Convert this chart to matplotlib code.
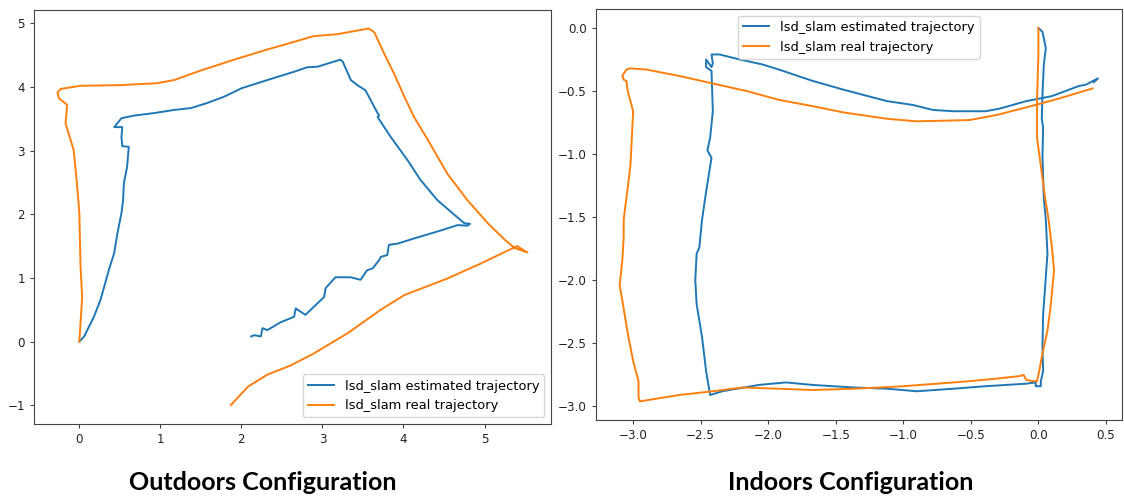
import matplotlib
matplotlib.use('Agg')
import matplotlib.pyplot as plt

# outdoors run (left panel)
out_est_x = [0, 0.06, 0.18, 0.26, 0.37, 0.43, 0.47, 0.52, 0.54, 0.55,
             0.59, 0.61, 0.53, 0.52, 0.53, 0.43, 0.45, 0.52, 0.67, 0.92,
             1.17, 1.38, 1.58, 1.79, 2.00, 2.32, 2.65, 2.81, 2.94, 3.22,
             3.25, 3.35, 3.43, 3.53, 3.68, 3.70, 3.68, 3.84, 4.05, 4.21,
             4.42, 4.63, 4.75, 4.82, 4.79, 4.67, 4.42, 4.13, 3.93, 3.82,
             3.80, 3.72, 3.70, 3.62, 3.55, 3.47, 3.35, 3.16, 3.04, 3.02,
             2.79, 2.67, 2.65, 2.48, 2.32, 2.26, 2.24, 2.16, 2.12]
out_est_y = [0, 0.08, 0.39, 0.65, 1.15, 1.39, 1.70, 2.02, 2.22, 2.49,
             2.75, 3.06, 3.07, 3.22, 3.37, 3.37, 3.40, 3.51, 3.55, 3.59,
             3.64, 3.67, 3.75, 3.85, 3.98, 4.11, 4.24, 4.31, 4.32, 4.43,
             4.40, 4.11, 4.03, 3.95, 3.59, 3.55, 3.53, 3.22, 2.85, 2.54,
             2.22, 1.99, 1.86, 1.85, 1.82, 1.83, 1.73, 1.62, 1.54, 1.52,
             1.36, 1.33, 1.28, 1.15, 1.12, 0.97, 1.01, 1.01, 0.84, 0.70,
             0.42, 0.52, 0.39, 0.30, 0.18, 0.21, 0.08, 0.10, 0.08]
out_real_x = [0, 0.035, 0.015, 0.0, -0.03, -0.07, -0.17, -0.15, -0.25, -0.27,
              -0.23, 0.015, 0.51, 0.96, 1.17, 1.50, 1.91, 2.32, 2.65, 2.89,
              3.18, 3.57, 3.64, 3.76, 3.88, 4.01, 4.13, 4.30, 4.54, 4.79,
              5.04, 5.25, 5.37, 5.53, 5.40, 4.96, 4.54, 4.01, 3.72, 3.31,
              2.89, 2.60, 2.32, 2.08, 1.87]
out_real_y = [0, 0.70, 1.18, 2.02, 2.49, 3.01, 3.43, 3.72, 3.82, 3.91,
              3.97, 4.02, 4.03, 4.06, 4.11, 4.26, 4.43, 4.59, 4.71, 4.80,
              4.83, 4.92, 4.86, 4.53, 4.22, 3.85, 3.53, 3.17, 2.64, 2.22,
              1.86, 1.60, 1.47, 1.40, 1.50, 1.23, 0.99, 0.73, 0.50, 0.13,
              -0.19, -0.38, -0.52, -0.71, -1.0]

# indoors run (right panel)
in_est_x = [0.0, 0.03, 0.055, 0.04, 0.03, 0.025, 0.035, 0.03, 0.04, 0.055,
            0.067, 0.05, 0.035, 0.03, 0.035, 0.018, 0.018, -0.02, -0.02, -0.09,
            -0.39, -0.63, -0.90, -1.12, -1.37, -1.67, -1.87, -2.07, -2.34, -2.43,
            -2.46, -2.49, -2.53, -2.54, -2.53, -2.51, -2.49, -2.46, -2.42, -2.45,
            -2.43, -2.41, -2.42, -2.46, -2.46, -2.42, -2.41, -2.42, -2.36, -2.21,
            -2.04, -1.92, -1.67, -1.44, -1.12, -0.93, -0.78, -0.63, -0.39, -0.29,
            -0.09, 0.10, 0.30, 0.35, 0.44, 0.41]
in_est_y = [0.0, -0.03, -0.16, -0.29, -0.53, -0.72, -0.79, -1.01, -1.35, -1.52,
            -1.79, -2.05, -2.27, -2.53, -2.72, -2.80, -2.84, -2.84, -2.81, -2.82,
            -2.84, -2.86, -2.88, -2.86, -2.85, -2.83, -2.81, -2.83, -2.88, -2.91,
            -2.72, -2.45, -2.19, -2.0, -1.79, -1.74, -1.52, -1.30, -1.03, -0.97,
            -0.87, -0.66, -0.34, -0.31, -0.25, -0.31, -0.28, -0.21, -0.21, -0.25,
            -0.29, -0.33, -0.42, -0.49, -0.58, -0.61, -0.65, -0.66, -0.66, -0.64,
            -0.58, -0.54, -0.46, -0.45, -0.40, -0.43]
in_real_x = [0.0, 0.0, -0.01, -0.01, 0.03, 0.05, 0.074, 0.10, 0.116, 0.09,
             0.067, 0.03, 0.006, -0.01, -0.04, -0.09, -0.11, -0.14, -0.31, -0.51,
             -0.75, -1.0, -1.17, -1.37, -1.67, -1.92, -2.19, -2.41, -2.66, -2.95,
             -2.96, -2.96, -3.0, -3.04, -3.08, -3.10, -3.08, -3.07, -3.07, -3.02,
             -3.0, -3.04, -3.05, -3.07, -3.08, -3.05, -3.02, -2.90, -2.66, -2.41,
             -2.16, -1.92, -1.67, -1.44, -1.12, -0.90, -0.51, -0.31, -0.02, 0.15,
             0.40]
in_real_y = [0.0, -0.21, -0.56, -0.87, -1.19, -1.35, -1.51, -1.74, -1.92, -2.21,
             -2.40, -2.58, -2.72, -2.80, -2.80, -2.79, -2.75, -2.76, -2.78, -2.80,
             -2.82, -2.84, -2.85, -2.86, -2.87, -2.86, -2.85, -2.88, -2.91, -2.96,
             -2.93, -2.80, -2.64, -2.42, -2.16, -2.04, -1.84, -1.66, -1.52, -1.09,
             -0.66, -0.50, -0.42, -0.41, -0.38, -0.33, -0.32, -0.33, -0.38, -0.44,
             -0.50, -0.57, -0.62, -0.67, -0.72, -0.74, -0.73, -0.69, -0.61, -0.56,
             -0.48]

labels = ['lsd_slam estimated trajectory', 'lsd_slam real trajectory']
captions = ['Outdoors Configuration', 'Indoors Configuration']

plt.rcParams['font.size'] = 8.6
plt.rcParams['xtick.major.size'] = 3
plt.rcParams['ytick.major.size'] = 3
plt.rcParams['axes.edgecolor'] = '#444444'
plt.rcParams['xtick.color'] = '#444444'
plt.rcParams['ytick.color'] = '#444444'
plt.rcParams['xtick.labelcolor'] = '#222222'
plt.rcParams['ytick.labelcolor'] = '#222222'

fig = plt.figure(figsize=(11.24, 4.98), dpi=100)
ax1 = fig.add_axes([0.0302, 0.1486, 0.460, 0.832])
ax2 = fig.add_axes([0.530, 0.1566, 0.468, 0.8247])

ax1.plot(out_est_x, out_est_y, color='#1f77b4', lw=1.4, label=labels[0])
ax1.plot(out_real_x, out_real_y, color='#ff7f0e', lw=1.4, label=labels[1])
ax1.legend(loc='lower right', fontsize=9.4)

ax2.plot(in_est_x, in_est_y, color='#1f77b4', lw=1.4, label=labels[0])
ax2.plot(in_real_x, in_real_y, color='#ff7f0e', lw=1.4, label=labels[1])
ax2.legend(loc='upper center', fontsize=9.4)

fig.text(0.234, 0.032, captions[0], ha='center', va='center',
         fontsize=18, fontweight='bold', family='Lato')
fig.text(0.757, 0.032, captions[1], ha='center', va='center',
         fontsize=18, fontweight='bold', family='Lato')

fig.savefig('out.png', dpi=100)
